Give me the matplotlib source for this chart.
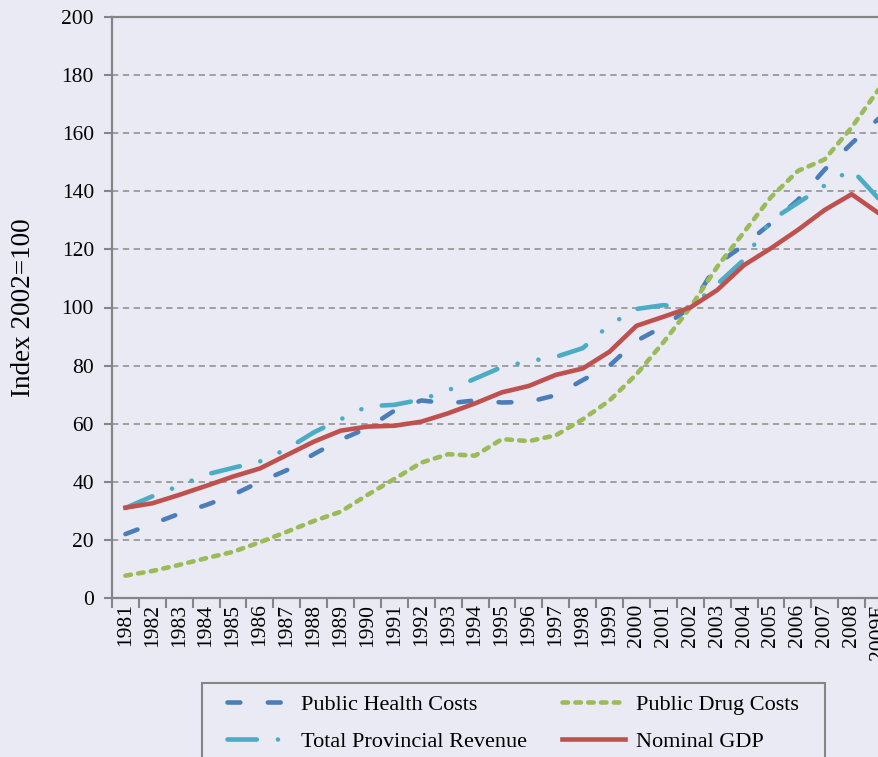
import numpy as np
import matplotlib.pyplot as plt
from matplotlib.patches import Rectangle

# Index 2002=100, values
years = [str(y) for y in range(1981, 2009)] + ['2009E']
health = [22, 25.5, 29, 32, 35.5, 40, 44, 49.5, 54.5, 58.5, 64.5, 68, 67, 68, 67.3,
          67.5, 69.8, 75, 80, 88.5, 93.5, 100, 115, 121.5, 129, 137, 147.5, 156.5, 165]
drug = [7.7, 9.3, 11.4, 13.7, 15.9, 19.2, 22.8, 26.5, 29.7, 35.5, 41, 46.6, 49.5, 49,
        54.7, 54, 56, 61.5, 68, 77, 88, 100, 114, 126, 138, 147, 151, 162, 175]
revenue = [31, 35, 38.6, 42.5, 44.8, 47, 51.3, 57, 61.5, 66, 66.5, 68.3, 71.5, 75.5,
           79.5, 81.5, 83, 86, 94, 99.5, 100.8, 100, 108, 116.5, 130, 136, 142, 147.5, 137.5]
gdp = [31.1, 32.6, 35.5, 38.6, 41.8, 44.6, 49.2, 53.8, 57.6, 59, 59.3, 60.7, 63.6, 67,
       70.8, 73, 76.8, 79, 84.8, 93.7, 96.8, 100, 106, 114.6, 120.4, 126.7, 133.6, 139, 132.5]
y_ticks = list(range(0, 201, 20))

bg = '#EAEAF4'
axis_grey = '#858585'
plt.rcParams['font.family'] = ['Liberation Serif', 'DejaVu Serif']

W, H = 879, 757
fig = plt.figure(figsize=(W / 100, H / 100), dpi=100, facecolor=bg)
# axes right edge runs past the figure edge, as in the reference (cropped)
ax = fig.add_axes([112 / W, (H - 598) / H, 780 / W, 581 / H])
ax.set_facecolor(bg)

x = np.arange(len(years))
lw = 3.3
ax.plot(x, health, color='#4A7EBB', lw=lw, dashes=(2.8, 6.0),
        dash_capstyle='round', label='Public Health Costs', zorder=3)
ax.plot(x, revenue, color='#4BACC6', lw=lw, dashes=(6.4, 4.6, 0.01, 4.6, 0.01, 4.6),
        dash_capstyle='round', label='Total Provincial Revenue', zorder=4)
ax.plot(x, drug, color='#9BBB59', lw=lw, dashes=(1.2, 1.6),
        dash_capstyle='round', label='Public Drug Costs', zorder=5)
ax.plot(x, gdp, color='#C0504D', lw=lw, solid_joinstyle='round',
        label='Nominal GDP', zorder=6)

ax.set_xlim(-0.5, len(years) - 0.5)
ax.set_ylim(0, 200)

# ticks at category boundaries, labels centred on categories
ax.set_xticks(np.arange(-0.5, len(years), 1))
ax.set_xticklabels([])
ax.set_xticks(x, minor=True)
ax.set_xticklabels(years, minor=True, rotation=90, fontsize=15.5)
ax.tick_params(axis='x', which='major', length=7, width=1.5, color=axis_grey)
ax.tick_params(axis='x', which='minor', length=0, pad=4)

ax.set_yticks(y_ticks)
ax.tick_params(axis='y', length=6, width=1.5, color=axis_grey, labelsize=15.5, pad=7)
ax.yaxis.grid(True, color='#9A9A9A', lw=1.3, linestyle=(0, (3.5, 2.5)))
ax.set_axisbelow(True)

for side in ['left', 'bottom', 'top']:
    ax.spines[side].set_color(axis_grey)
    ax.spines[side].set_linewidth(1.6)
ax.spines['right'].set_visible(False)

ax.set_ylabel('Index 2002=100', fontsize=19.5, labelpad=18)

# legend frame (runs off the bottom of the figure)
fig.add_artist(Rectangle((202.5 / W, -0.05), (825 - 202.5) / W, 0.05 + (H - 683) / H,
                         transform=fig.transFigure, facecolor=bg,
                         edgecolor=axis_grey, lw=1.5, zorder=1))
handles, labels = ax.get_legend_handles_labels()
fig.legend(handles, labels,
           loc='upper left', bbox_to_anchor=(227 / W, (H - 694) / H), ncol=2,
           frameon=False, fontsize=16, handlelength=2.85, handletextpad=0.5,
           columnspacing=1.55, labelspacing=0.75, borderpad=0, borderaxespad=0)

fig.savefig('out.png', dpi=100, facecolor=bg)
